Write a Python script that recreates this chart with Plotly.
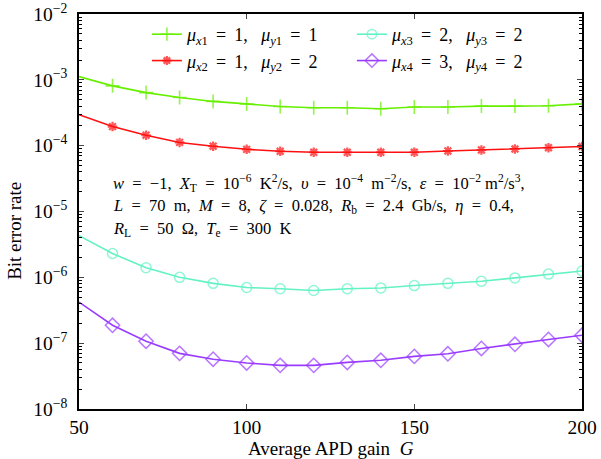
import plotly.graph_objects as go

G = [50, 60, 70, 80, 90, 100, 110, 120, 130, 140, 150, 160, 170, 180, 190, 200]

ber_1 = [1.12e-3, 8.1e-4, 6.4e-4, 5.4e-4, 4.7e-4, 4.3e-4, 3.94e-4, 3.76e-4, 3.76e-4, 3.63e-4,
         3.86e-4, 3.86e-4, 3.99e-4, 3.99e-4, 4.04e-4, 4.31e-4]
ber_2 = [2.95e-4, 1.95e-4, 1.44e-4, 1.12e-4, 9.8e-5, 8.8e-5, 8.22e-5, 7.94e-5, 7.94e-5, 7.94e-5,
         7.94e-5, 8.3e-5, 8.6e-5, 8.9e-5, 9.3e-5, 9.7e-5]
ber_3 = [4.3e-6, 2.3e-6, 1.4e-6, 1.0e-6, 8.1e-7, 7.0e-7, 6.7e-7, 6.3e-7, 6.7e-7, 6.9e-7,
         7.5e-7, 8.1e-7, 8.7e-7, 9.8e-7, 1.12e-6, 1.25e-6]
ber_4 = [4.2e-7, 1.87e-7, 1.07e-7, 7.0e-8, 5.7e-8, 5.0e-8, 4.6e-8, 4.6e-8, 5.1e-8, 5.5e-8,
         6.3e-8, 6.9e-8, 8.3e-8, 9.6e-8, 1.14e-7, 1.32e-7]

EQ = "\u2009 = \u2009"
names = {
    1: f"<i>μ</i><sub><i>x</i>1</sub>{EQ}1,   <i>μ</i><sub><i>y</i>1</sub>{EQ}1",
    2: f"<i>μ</i><sub><i>x</i>2</sub>{EQ}1,   <i>μ</i><sub><i>y</i>2</sub>{EQ}2",
    3: f"<i>μ</i><sub><i>x</i>3</sub>{EQ}2,   <i>μ</i><sub><i>y</i>3</sub>{EQ}2",
    4: f"<i>μ</i><sub><i>x</i>4</sub>{EQ}3,   <i>μ</i><sub><i>y</i>4</sub>{EQ}2",
}

y_tick_vals = [1e-8, 1e-7, 1e-6, 1e-5, 1e-4, 1e-3, 1e-2]
y_tick_text = ["10<sup>−8</sup>", "10<sup>−7</sup>", "10<sup>−6</sup>", "10<sup>−5</sup>",
               "10<sup>−4</sup>", "10<sup>−3</sup>", "10<sup>−2</sup>"]
x_tick_vals = [50, 100, 150, 200]

minor_vals = [m * 10 ** e for e in range(-8, -2) for m in range(2, 10)]

FONT = "Liberation Serif"

styles = {
    1: dict(color="#66F000", symbol="cross-thin-open", size=10, lw=1.6),
    2: dict(color="#FF1010", symbol="asterisk-open", size=8, lw=2.2),
    3: dict(color="#62F2C4", symbol="circle-open", size=10, lw=1.5),
    4: dict(color="#9A3CFF", symbol="diamond-open", size=11, lw=1.5),
}
data = {1: ber_1, 2: ber_2, 3: ber_3, 4: ber_4}

fig = go.Figure()
for k in [1, 3, 2, 4]:
    st = styles[k]
    y = data[k]
    fig.add_trace(go.Scatter(
        x=G, y=y, mode="lines+markers", name=names[k],
        line=dict(color=st["color"], width=1.6),
        marker=dict(symbol=st["symbol"], size=[0] + [st["size"]] * (len(G) - 1),
                    color=st["color"], line=dict(color=st["color"], width=st["lw"])),
    ))

fig.update_layout(
    width=601, height=459,
    margin=dict(l=79, r=19, t=14, b=50, autoexpand=False),
    paper_bgcolor="white", plot_bgcolor="white",
    font=dict(family=FONT, size=17, color="black"),
    showlegend=True,
    legend=dict(
        orientation="h", x=0.135, y=0.995, xanchor="left", yanchor="top",
        entrywidth=160, entrywidthmode="pixels",
        font=dict(family=FONT, size=18),
        bgcolor="rgba(0,0,0,0)", tracegroupgap=0, itemsizing="trace",
    ),
    xaxis=dict(
        range=[50, 200], tickvals=x_tick_vals, ticks="inside", ticklen=5,
        showline=True, linecolor="black", linewidth=1.5, mirror="allticks",
        showgrid=False, zeroline=False, tickfont=dict(size=19.5), automargin=False,
    ),
    yaxis=dict(
        type="log", range=[-8, -2], tickvals=y_tick_vals, ticktext=y_tick_text,
        ticks="inside", ticklen=5, showline=True, linecolor="black", linewidth=1.5,
        mirror="allticks", showgrid=False, zeroline=False, tickfont=dict(size=19.5),
        automargin=False, ticklabelstandoff=6,
        minor=dict(tickvals=minor_vals, ticks="inside", ticklen=3, showgrid=False,
                   tickcolor="black"),
    ),
)

# axis titles placed as text
fig.add_annotation(
    xref="paper", yref="paper", x=-0.128, y=0.45, xanchor="center", yanchor="middle",
    textangle=-90, showarrow=False, text="Bit error rate", font=dict(family=FONT, size=19),
)
fig.add_annotation(
    xref="paper", yref="paper", x=0.5, y=-0.099, xanchor="center", yanchor="middle",
    showarrow=False, text="Average APD gain  <i>G</i>", font=dict(family=FONT, size=19),
)

S = "\u2002=\u2002"
note_lines = [
    f"<i>w</i>{S}−1,  <i>X</i><sub>T</sub>{S}10<sup>−6</sup>  K<sup>2</sup>/s,  "
    f"<i>υ</i>{S}10<sup>−4</sup>  m<sup>−2</sup>/s,  <i>ε</i>{S}10<sup>−2</sup> m<sup>2</sup>/s<sup>3</sup>,",
    f"<i>L</i>{S}70  m,  <i>M</i>{S}8,  <i>ζ</i>{S}0.028,  <i>R</i><sub>b</sub>{S}2.4  Gb/s,  <i>η</i>{S}0.4,",
    f"<i>R</i><sub>L</sub>{S}50  Ω,  <i>T</i><sub>e</sub>{S}300  K",
]
note_y = [0.571, 0.513, 0.455]
for txt, yy in zip(note_lines, note_y):
    fig.add_annotation(
        xref="paper", yref="paper", x=0.064, y=yy, xanchor="left", yanchor="middle",
        align="left", showarrow=False, font=dict(family=FONT, size=16.5), text=txt,
    )

fig.write_html("out.html")
